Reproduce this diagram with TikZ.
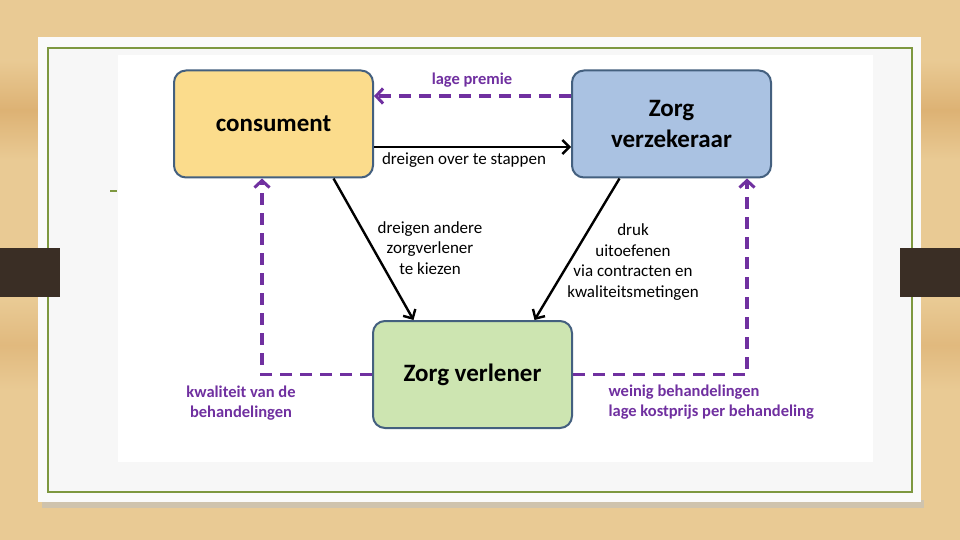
\documentclass[tikz,border=0pt]{standalone}
\usepackage{fontspec}
\setmainfont{Carlito}
\usetikzlibrary{arrows.meta,positioning}
\definecolor{wood}{HTML}{E9CA94}
\definecolor{wooddark}{HTML}{DDB274}
\definecolor{olive}{HTML}{7E9840}
\definecolor{bar}{HTML}{3A2E25}
\definecolor{boxline}{HTML}{44607F}
\definecolor{consfill}{HTML}{FBDC8C}
\definecolor{verzfill}{HTML}{AAC2E2}
\definecolor{verlfill}{HTML}{CDE5B1}
\definecolor{purp}{HTML}{7030A0}
\tikzset{
  actor/.style={draw=boxline,line width=2pt,rounded corners=12pt,minimum width=199pt,
    minimum height=107pt,align=center,font=\fontsize{25}{31}\selectfont\bfseries},
  push/.style={line width=2.4pt,-{Straight Barb[length=7pt,width=14pt,line width=2.4pt]}},
  money/.style={draw=purp,line width=3.5pt,dash pattern=on 12pt off 8pt,
    -{Straight Barb[length=7pt,width=15pt,line width=3pt]}},
  lbl/.style={font=\fontsize{17}{20.5}\selectfont,align=center},
  plbl/.style={font=\fontsize{16.5}{20.5}\selectfont\bfseries,text=purp,align=center}
}

\begin{document}
\begin{tikzpicture}[x=1pt,y=-1pt]
  % slide background
  \fill[wood] (0,0) rectangle (960,540);
  \shade[top color=wood,bottom color=wooddark] (0,60) rectangle (960,110);
  \shade[top color=wooddark,bottom color=wood] (0,110) rectangle (960,160);
  \shade[top color=wood,bottom color=wooddark!70!wood] (0,300) rectangle (960,345);
  \shade[top color=wooddark!70!wood,bottom color=wood] (0,345) rectangle (960,390);
  \useasboundingbox (0,0) rectangle (960,540);
  \fill[black!25,opacity=0.6] (42,500) rectangle (924,508);
  \fill[white!98!black] (38,37) rectangle (921,502);
  \fill[white!97!black] (48,48) rectangle (912,492);
  \draw[olive,line width=2pt] (48,48) rectangle (912,492);
  \fill[white] (118,55) rectangle (873,462);
  \draw[olive,line width=1.5pt] (110,191) -- (117,191);
  \fill[bar] (0,248) rectangle (60,297);
  \fill[bar] (900,248) rectangle (960,297);
  % actors
  \node[actor,fill=consfill] (con) at (273.5,124) {consument};
  \node[actor,fill=verzfill] (verz) at (671.5,124) {Zorg\\verzekeraar};
  \node[actor,fill=verlfill] (verl) at (472.5,374.5) {Zorg verlener};
  % black arrows
  \draw[push] ([yshift=-23pt]con.east) -- ([yshift=-23pt]verz.west);
  \draw[push] ([xshift=60pt]con.south) -- ([xshift=-59pt]verl.north);
  \draw[push] ([xshift=-52pt]verz.south) -- ([xshift=62pt]verl.north);
  \node[lbl] (stap) at (464,160) {dreigen over te stappen};
  \node[lbl] (kies) at (430,248) {dreigen andere\\zorgverlener\\te kiezen};
  \node[lbl] (druk) at (633,262) {druk\\uitoefenen\\via contracten en\\kwaliteitsmetingen};
  % purple dashed arrows
  \draw[money] ([yshift=28pt]verz.west) -- ([yshift=28pt]con.east);
  \draw[money] (verl.west) -| ([xshift=-11.5pt]con.south);
  \draw[money] (verl.east) -| ([xshift=75.5pt]verz.south);
  \node[plbl] (premie) at (472,80) {lage premie};
  \node[plbl] (kwal) at (241,403) {kwaliteit van de\\behandelingen};
  \node[plbl,align=left,anchor=west] (weinig) at (605,402) {weinig behandelingen\\lage kostprijs per behandeling};
\end{tikzpicture}
\end{document}
